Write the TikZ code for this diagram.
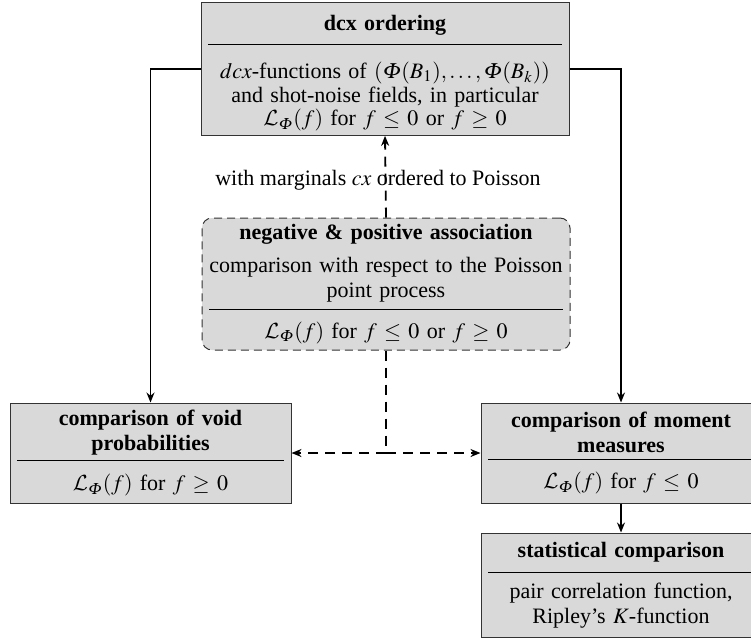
\documentclass[tikz,border=0pt]{standalone}
\usepackage{mathptmx}
\usepackage{fontspec}
\setmainfont{Liberation Serif}
\usepackage{tikz}
\usetikzlibrary{arrows.meta}
\DeclareMathAlphabet{\mathcal}{OMS}{cmsy}{m}{n}
\DeclareMathSymbol{\itPhi}{\mathalpha}{letters}{"08}
\newcommand{\boxsep}[2]{\par\vspace{#1}\hrule height 0.5pt\vspace{#2}}

\begin{document}
\begin{tikzpicture}[x=0.5pt,y=-0.5pt,
        box/.style={draw=black!80, fill=black!15, line width=0.5pt, align=center,
            inner xsep=3.5pt, inner ysep=2pt, font=\fontsize{11}{11.8}\selectfont},
        conn/.style={line width=0.9pt, -{Stealth[length=5pt,width=4pt]}},
        dconn/.style={conn, dash pattern=on 5pt off 3.5pt},
        dline/.style={line width=0.9pt, dash pattern=on 5pt off 3.5pt}]
                \useasboundingbox (0,0) rectangle (751,639);
                \node[box, text width=177pt, minimum height=66pt] (top) at (385,69)
                    {\rule{0pt}{12pt}\textbf{dcx ordering}\boxsep{4.3pt}{8.5pt}
                    $dcx$-functions of $(\itPhi(B_1),\dots,\itPhi(B_k))$\\
                    and shot-noise fields, in particular\\
                    $\mathcal{L}_{\itPhi}(f)$ for $f\leq 0$ or $f\geq 0$};
                \node[box, text width=177pt, minimum height=66pt, rounded corners=5pt,
                    dash pattern=on 4pt off 2.5pt] (neg) at (386,284)
                    {\textbf{negative \& positive association}\\[4.5pt]
                    comparison with respect to the Poisson\\[1pt]
                    point process\boxsep{3.2pt}{6pt}
                    $\mathcal{L}_{\itPhi}(f)$ for $f\leq 0$ or $f\geq 0$\par\vspace{3pt}};
                \node[box, text width=133.5pt, minimum height=50pt] (void) at (150.5,453)
                    {\textbf{comparison of void}\\[1pt]
                    \textbf{probabilities}\boxsep{2.2pt}{6.8pt}
                    $\mathcal{L}_{\itPhi}(f)$ for $f\geq 0$};
                \node[box, text width=133pt, minimum height=50pt] (moment) at (621,453)
                    {\textbf{comparison of moment}\\[1pt]
                    \textbf{measures}\boxsep{2.8pt}{6.2pt}
                    $\mathcal{L}_{\itPhi}(f)$ for $f\leq 0$};
                \node[box, text width=133pt, minimum height=52pt] (stat) at (621,585)
                    {\textbf{statistical comparison}\boxsep{5pt}{5.3pt}
                    pair correlation function,\\[0.5pt]
                    Ripley's $K$-function};
                \node[anchor=base, font=\fontsize{11}{11.8}\selectfont] (lbl) at (378,185)
                    {with marginals $cx$ ordered to Poisson};
                \coordinate (mid) at (neg.south |- void.east);
                \draw[conn] (top.west) -| (void.north);
                \draw[conn] (top.east) -| (moment.north);
                \draw[dconn] (neg.north) -- (top.south);
                \draw[dline] (neg.south) -- (mid);
                \draw[dconn] (mid) -- (void.east);
                \draw[dconn] (mid) -- (moment.west);
                \draw[conn] (moment.south) -- (stat.north);
            \end{tikzpicture}
\end{document}
